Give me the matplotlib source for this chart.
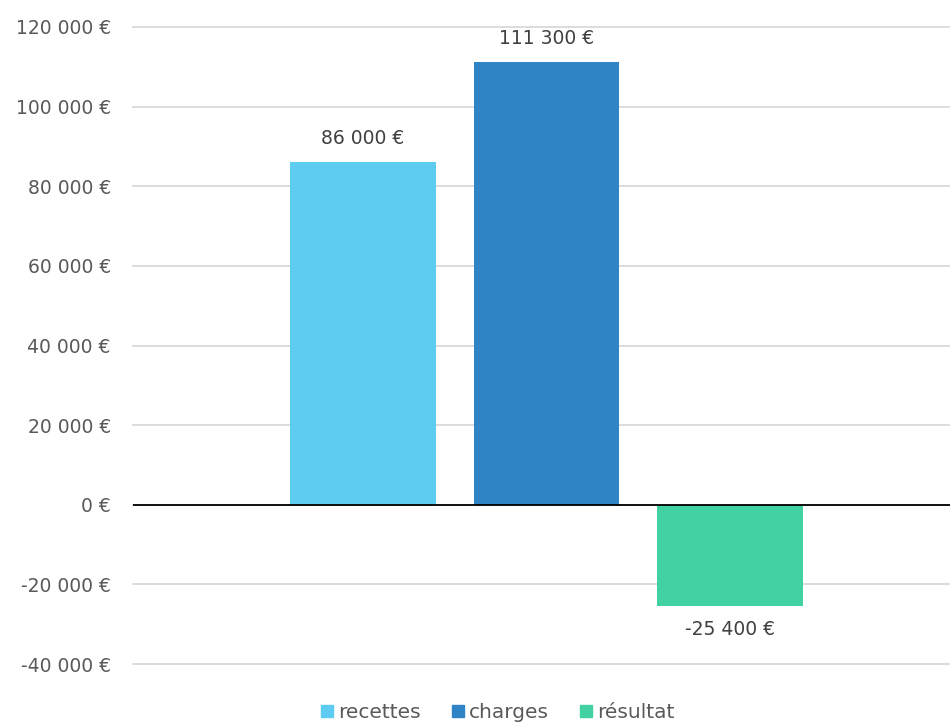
import matplotlib.pyplot as plt
from matplotlib.lines import Line2D

series = ["recettes", "charges", "résultat"]
values = [86000, 111300, -25400]
colors = ["#5ECBF0", "#2E84C4", "#42D1A2"]
yticks = [-40000, -20000, 0, 20000, 40000, 60000, 80000, 100000, 120000]


def euro(v):
    return f"{v:,.0f} €".replace(",", " ")


plt.rcParams["font.family"] = ["DejaVu Sans"]

fig = plt.figure(figsize=(9.5, 7.24), dpi=100)
ax = fig.add_axes([133 / 950, 1 - 664 / 724, 817 / 950, (664 - 27) / 724])

pos = list(range(len(series)))
ax.bar(pos, values, width=0.795, color=colors, zorder=2)

for x, v in zip(pos, values):
    off = 10 if v >= 0 else -10
    ax.annotate(euro(v), (x, v), xytext=(0, off), textcoords="offset points",
                ha="center", va="bottom" if v >= 0 else "top",
                fontsize=13.5, color="#404040")

ax.set_xlim(-1.253, 3.199)
ax.set_ylim(-40000, 120000)
ax.set_yticks(yticks)
ax.set_yticklabels([euro(t) for t in yticks], fontsize=13.5, color="#595959")
ax.set_xticks([])
ax.tick_params(axis="y", length=0, pad=16)
ax.grid(axis="y", color="#D9D9D9", lw=1.3, zorder=0)
for gl in ax.get_ygridlines():
    gl.set_clip_on(False)
ax.axhline(0, color="black", lw=1.3, zorder=3)
for s in ax.spines.values():
    s.set_visible(False)

# legend sits at the very bottom edge, kept just inside the image
handles = [Line2D([], [], marker="s", ls="", color=c, markersize=9) for c in colors]
fig.legend(handles, series, loc="lower center", bbox_to_anchor=(0.522, 0.003),
           ncol=3, frameon=False, fontsize=14.5, labelcolor="#595959",
           handletextpad=0.1, columnspacing=1.4, handlelength=0.9,
           borderaxespad=0, borderpad=0)

fig.savefig("out.png", dpi=100)
